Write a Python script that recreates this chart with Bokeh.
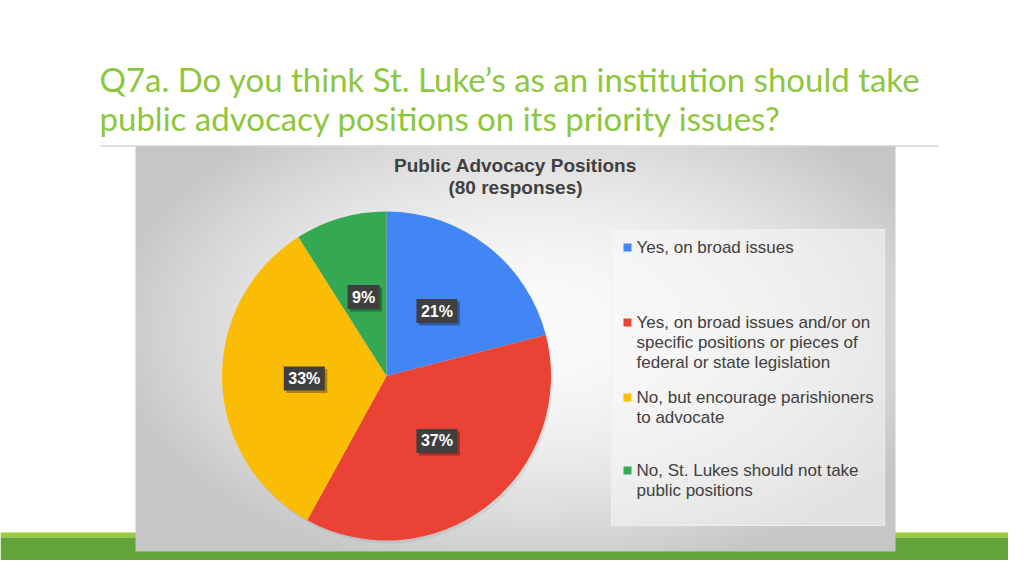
import numpy as np
from bokeh.plotting import figure
from bokeh.models import Range1d
from bokeh.core.properties import value
from bokeh.embed import file_html
from bokeh.resources import INLINE

# data
categories = [
    "Yes, on broad issues",
    "Yes, on broad issues and/or on\nspecific positions or pieces of\nfederal or state legislation",
    "No, but encourage parishioners\nto advocate",
    "No, St. Lukes should not take\npublic positions",
]
percents = [21, 37, 33, 9]
colors = ["#4285F4", "#EA4335", "#FBBC04", "#34A853"]
page_title = ["Q7a. Do you think St. Luke\u2019s as an institution should take",
              "public advocacy positions on its priority issues?"]
chart_title = ["Public Advocacy Positions", "(80 responses)"]

# the page is drawn in screen pixels, y flipped (H - y)
W, H = 1024, 576
def Y(y):
    return H - y

p = figure(width=1008, height=560, output_backend="svg", toolbar_location=None,
           x_range=Range1d(0, 1008), y_range=Range1d(Y(560), Y(0)),
           min_border=0)
p.axis.visible = False
p.grid.visible = False
p.outline_line_color = None
p.background_fill_color = "white"
p.border_fill_color = "white"

# green band at the bottom
p.quad(left=0, right=W, top=Y(532), bottom=Y(537), fill_color="#9CCB3B", line_color=None)
p.quad(left=0, right=W, top=Y(537), bottom=Y(580), fill_color="#62A33A", line_color=None)

# separator under the page title
p.line(x=[100, 938], y=[Y(145.5), Y(145.5)], line_color="#d4d4d4", line_width=1.5)

# chart panel with a soft radial gradient
px0, px1, py0, py1 = 135, 895, 146, 551
pw, ph = px1 - px0, py1 - py0
gx, gy = np.meshgrid(np.linspace(-1, 1, pw), np.linspace(-1, 1, ph))
gx = (gx - 0.05) / 1.0
gy = (gy + 0.1) / 1.1
r = np.sqrt(gx ** 2 + gy ** 2)
shade = np.clip(251 - 42 * r ** 1.8, 198, 251).astype(np.uint8)
img = np.empty((ph, pw), dtype=np.uint32)
view = img.view(dtype=np.uint8).reshape((ph, pw, 4))
view[:, :, 0] = shade
view[:, :, 1] = shade
view[:, :, 2] = shade
view[:, :, 3] = 255
img = img[::-1]
p.image_rgba(image=[img], x=px0, y=Y(py1), dw=pw, dh=ph)

# page title
for i, line in enumerate(page_title):
    p.text(x=[99], y=[Y(78 + 39 * i)], text=[line], text_font=value("Lato"),
           text_font_size="33px", text_color="#8DC63F", text_baseline="alphabetic")

# chart title
for i, line in enumerate(chart_title):
    p.text(x=[515], y=[Y(165 + 22 * i)], text=[line], text_font=value("Liberation Sans"),
           text_font_size="19px", text_font_style="bold", text_color="#404040",
           text_align="center", text_baseline="middle")

# pie
cx, cy, rad = 386, Y(375.5), 164.5
frac = np.array(percents) / sum(percents)
cum = np.concatenate([[0], np.cumsum(frac)])
starts = np.pi / 2 - cum[1:] * 2 * np.pi
ends = np.pi / 2 - cum[:-1] * 2 * np.pi
p.wedge(x=cx + 2, y=cy - 3, radius=rad, start_angle=starts, end_angle=ends,
        fill_color="#000000", fill_alpha=0.06, line_color=None)
p.wedge(x=cx, y=cy, radius=rad, start_angle=starts, end_angle=ends,
        fill_color=colors, line_color=None)

# data labels
mid = (starts + ends) / 2
lx = cx + 0.5 * rad * np.cos(mid)
ly = cy + 0.5 * rad * np.sin(mid)
labels = [f"{v}%" for v in percents]
lw = [9 * len(s) + 14 for s in labels]
p.rect(x=lx + 2.5, y=ly - 2.5, width=lw, height=24, fill_color="#000000",
       fill_alpha=0.3, line_color=None)
p.rect(x=lx, y=ly, width=lw, height=24, fill_color="#3f3f3f", line_color=None)
p.text(x=lx, y=ly, text=labels, text_font=value("Liberation Sans"), text_font_size="16px",
       text_font_style="bold", text_color="white", text_align="center",
       text_baseline="middle")

# legend
p.quad(left=611, right=884, top=Y(229), bottom=Y(525), fill_color="#f7f7f7",
       fill_alpha=0.55, line_color="#eeeeee", line_width=1)
entry_y = [247, 322, 397, 470]
for cat, col, ey in zip(categories, colors, entry_y):
    p.rect(x=[627], y=[Y(ey)], width=8, height=8, fill_color=col, line_color=None)
    for j, line in enumerate(cat.split("\n")):
        p.text(x=[636], y=[Y(ey + 20 * j)], text=[line], text_font=value("Liberation Sans"),
               text_font_size="17px", text_color="#404040", text_baseline="middle")

open("out.html", "w").write(file_html(p, INLINE))
